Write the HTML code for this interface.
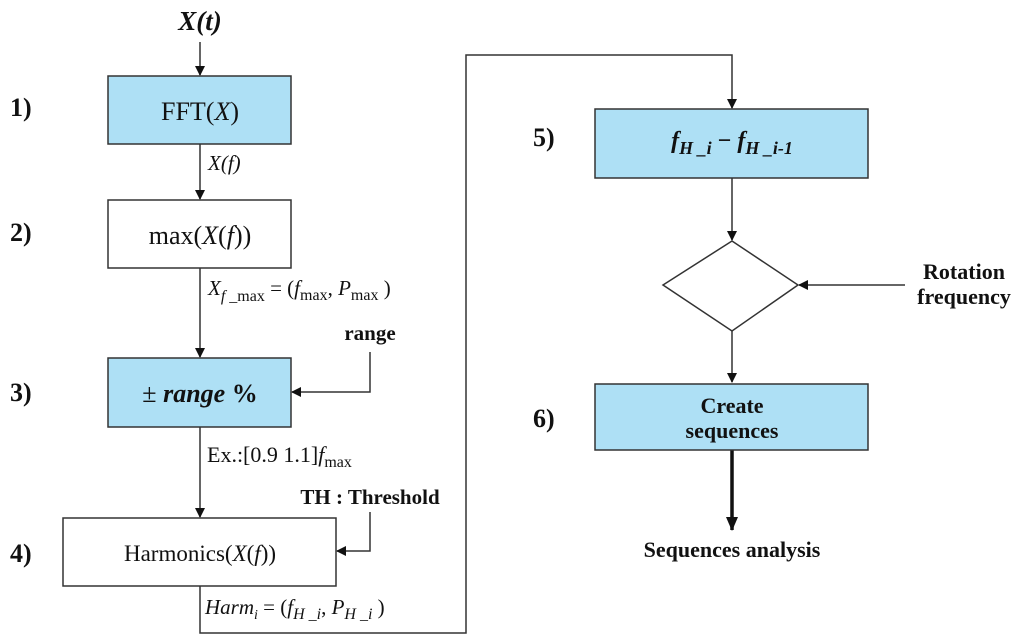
<!DOCTYPE html>
<html><head><meta charset="utf-8"><style>
html,body{margin:0;padding:0;background:#fff;}
svg{display:block;}
text{font-family:"Liberation Serif",serif;fill:#111;}
.b{font-weight:bold;}
.i{font-style:italic;}
</style></head><body>
<svg width="1024" height="639" viewBox="0 0 1024 639" xmlns="http://www.w3.org/2000/svg">
<defs>
<marker id="a" markerWidth="10" markerHeight="10" refX="9" refY="5" orient="auto" markerUnits="userSpaceOnUse">
<path d="M0,0 L10,5 L0,10 z" fill="#111"/></marker>
<marker id="a2" markerWidth="14" markerHeight="14" refX="13" refY="7" orient="auto" markerUnits="userSpaceOnUse">
<path d="M0,1 L14,7 L0,13 z" fill="#111"/></marker>
</defs>
<g stroke="#333" stroke-width="1.5" fill="none">
<line x1="200" y1="42" x2="200" y2="75" marker-end="url(#a)"/>
<line x1="200" y1="144" x2="200" y2="199" marker-end="url(#a)"/>
<line x1="200" y1="268" x2="200" y2="357" marker-end="url(#a)"/>
<polyline points="370,352 370,392 292,392" marker-end="url(#a)"/>
<line x1="200" y1="427" x2="200" y2="517" marker-end="url(#a)"/>
<polyline points="370,512 370,551 337,551" marker-end="url(#a)"/>
<polyline points="200,586 200,633 466,633 466,55 732,55 732,108" marker-end="url(#a)"/>
<line x1="732" y1="178" x2="732" y2="240" marker-end="url(#a)"/>
<line x1="905" y1="285" x2="799" y2="285" marker-end="url(#a)"/>
<line x1="732" y1="331" x2="732" y2="382" marker-end="url(#a)"/>
</g>
<line x1="732" y1="450" x2="732" y2="530" stroke="#111" stroke-width="3.5" marker-end="url(#a2)"/>
<g stroke="#333" stroke-width="1.5">
<rect x="108" y="76" width="183" height="68" fill="#aee0f5"/>
<rect x="108" y="200" width="183" height="68" fill="#fff"/>
<rect x="108" y="358" width="183" height="69" fill="#aee0f5"/>
<rect x="63" y="518" width="273" height="68" fill="#fff"/>
<rect x="595" y="109" width="273" height="69" fill="#aee0f5"/>
<polygon points="732,241 798,285 732,331 663,285" fill="#fff"/>
<rect x="595" y="384" width="273" height="66" fill="#aee0f5"/>
</g>
<g class="b" font-size="26">
<text x="10" y="116">1)</text>
<text x="10" y="241">2)</text>
<text x="10" y="401">3)</text>
<text x="10" y="562">4)</text>
<text x="533" y="146">5)</text>
<text x="533" y="427">6)</text>
</g>
<text x="200" y="30" text-anchor="middle" font-size="27" class="b i">X(t)</text>
<text x="200" y="120" text-anchor="middle" font-size="26">FFT(<tspan class="i">X</tspan>)</text>
<text x="208" y="170" font-size="21" class="i">X(f)</text>
<text x="200" y="244" text-anchor="middle" font-size="26">max(<tspan class="i">X</tspan>(<tspan class="i">f</tspan>))</text>
<text x="208" y="295" font-size="21"><tspan class="i">X</tspan><tspan font-size="16" dy="6"><tspan class="i">f</tspan> _max</tspan><tspan dy="-6"> = (</tspan><tspan class="i">f</tspan><tspan font-size="16" dy="5">max</tspan><tspan dy="-5">, </tspan><tspan class="i">P</tspan><tspan font-size="16" dy="5">max</tspan><tspan dy="-5"> )</tspan></text>
<text x="370" y="340" text-anchor="middle" font-size="21" class="b">range</text>
<text x="200" y="402" text-anchor="middle" font-size="26">± <tspan class="i b">range</tspan><tspan class="b"> %</tspan></text>
<text x="207" y="462" font-size="22">Ex.:[0.9  1.1]<tspan class="i">f</tspan><tspan font-size="16" dy="5">max</tspan></text>
<text x="370" y="504" text-anchor="middle" font-size="21" class="b">TH : Threshold</text>
<text x="200" y="561" text-anchor="middle" font-size="23">Harmonics(<tspan class="i">X</tspan>(<tspan class="i">f</tspan>))</text>
<text x="205" y="614" font-size="21"><tspan class="i">Harm</tspan><tspan font-size="14" dy="5" class="i">i</tspan><tspan dy="-5"> = (</tspan><tspan class="i">f</tspan><tspan font-size="16" dy="5" class="i">H _i</tspan><tspan dy="-5">, </tspan><tspan class="i">P</tspan><tspan font-size="16" dy="5" class="i">H _i</tspan><tspan dy="-5"> )</tspan></text>
<text x="732" y="148" text-anchor="middle" font-size="24" class="i b"><tspan>f</tspan><tspan font-size="18" dy="6">H _i</tspan><tspan dy="-6" font-style="normal"> − </tspan><tspan>f</tspan><tspan font-size="18" dy="6">H _i-1</tspan></text>
<text x="964" y="279" text-anchor="middle" font-size="22" class="b">Rotation</text>
<text x="964" y="304" text-anchor="middle" font-size="22" class="b">frequency</text>
<text x="732" y="413" text-anchor="middle" font-size="22" class="b">Create</text>
<text x="732" y="438" text-anchor="middle" font-size="22" class="b">sequences</text>
<text x="732" y="557" text-anchor="middle" font-size="22" class="b">Sequences analysis</text>
</svg>
</body></html>
